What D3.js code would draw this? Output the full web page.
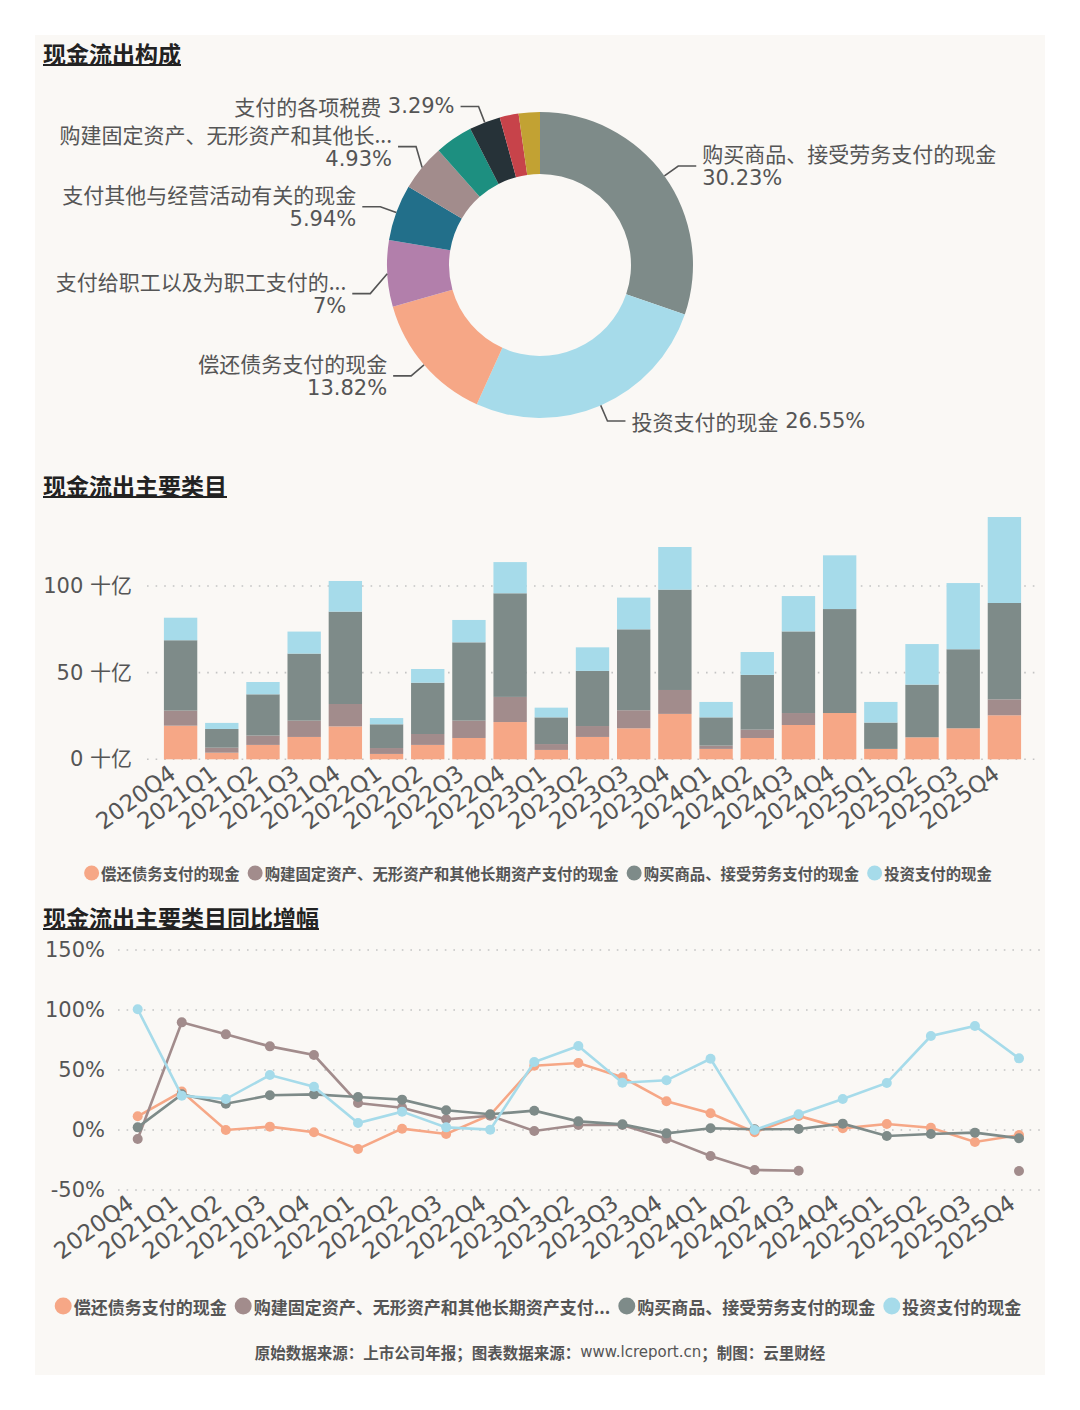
<!DOCTYPE html>
<html><head><meta charset="utf-8">
<script src="https://cdn.jsdelivr.net/npm/d3@7/dist/d3.min.js"></script>
<style>body{margin:0;background:#fff}</style>
</head><body>
<svg id="chart" width="1080" height="1410"></svg>
<script>
// ---------- DATA ----------
const pieNames = ["购买商品、接受劳务支付的现金","投资支付的现金","偿还债务支付的现金","支付给职工以及为职工支付的现金","支付其他与经营活动有关的现金","购建固定资产、无形资产和其他长期资产支付的现金","分配股利、利润或偿付利息支付的现金","支付的各项税费","支付其他与筹资活动有关的现金","支付其他与投资活动有关的现金"];
const pieValues = [30.23,26.55,13.82,7,5.94,4.93,4.0,3.29,2.0,2.24];
const pieShowLabel = [true,true,true,true,true,true,false,true,false,false];

const quarters = ["2020Q4","2021Q1","2021Q2","2021Q3","2021Q4","2022Q1","2022Q2","2022Q3","2022Q4","2023Q1","2023Q2","2023Q3","2023Q4","2024Q1","2024Q2","2024Q3","2024Q4","2025Q1","2025Q2","2025Q3","2025Q4"];
const seriesNames = ["偿还债务支付的现金","购建固定资产、无形资产和其他长期资产支付的现金","购买商品、接受劳务支付的现金","投资支付的现金"];
// 十亿
const debtPaid     = [19.4,3.8,8.3,12.9,19.0,3.1,8.3,12.3,21.5,5.4,12.9,17.9,26.2,6.0,12.3,19.8,26.7,6.0,12.7,17.9,25.4];
const fixedAssets  = [8.7,2.9,5.4,9.4,12.9,3.4,6.3,10.0,14.5,3.4,6.3,10.4,13.8,1.9,4.8,6.9,0,0,0,0,9.2];
const goodsPaid    = [40.6,10.8,23.8,38.7,53.3,13.7,29.6,45.2,59.8,15.4,31.8,46.7,57.9,16.3,31.6,47.1,60.0,15.2,30.4,45.6,55.6];
const investPaid   = [13.0,3.5,7.1,12.7,17.7,3.6,7.9,12.9,18.0,5.6,13.6,18.3,24.6,8.9,13.2,20.4,31.0,11.9,23.4,38.2,49.6];
const barTicks = [0,50,100];
const barUnit = "十亿";
// YoY %
const debtYoY   = [11.4,32.0,0.0,2.8,-1.9,-15.8,1.1,-3.3,12.5,53.5,55.8,43.9,23.9,13.9,-1.9,11.7,1.4,5.0,1.9,-10.0,-4.2];
const fixedYoY  = [-7.5,89.7,79.7,69.7,62.5,22.5,18.6,8.9,11.9,-0.8,4.2,4.2,-7.2,-21.7,-33.3,-33.9,null,null,null,null,-34.2];
const goodsYoY  = [2.2,29.7,21.9,28.9,29.7,27.5,25.3,16.4,13.1,16.1,7.2,4.7,-2.8,1.4,0.6,0.8,5.3,-5.0,-3.3,-2.2,-6.9];
const investYoY = [100.6,28.6,25.8,45.8,36.1,5.8,15.3,2.2,0.3,56.6,70.0,39.4,41.4,59.4,0.0,13.1,25.8,39.2,78.3,86.7,59.7];
const lineTicks = [-50,0,50,100,150];

const titles = ["现金流出构成","现金流出主要类目","现金流出主要类目同比增幅"];
const footerParts = ["原始数据来源：上市公司年报；图表数据来源：","www.lcreport.cn","；制图：云里财经"];

// ---------- STYLE ----------
const pieColors = ["#7e8b89","#a6dbea","#f6a786","#b27fab","#226f8a","#a28c8c","#1d8f80","#263238","#c7434a","#c2a233"];
const seriesColors = ["#f6a786","#a28c8c","#7e8b89","#a6dbea"];
const NUM = "'DejaVu Sans','Noto Sans CJK SC',sans-serif";
const CJK = "'Noto Sans CJK SC','DejaVu Sans',sans-serif";
const TXT = "#555";

const svg = d3.select("#chart");
svg.append("rect").attr("x",35).attr("y",35).attr("width",1010).attr("height",1340).attr("fill","#faf8f5");

function title(t, y){
  const g = svg.append("g");
  const tx = g.append("text").attr("x",43).attr("y",y).attr("dominant-baseline","central")
    .attr("font-family",CJK).attr("font-weight","bold").attr("font-size",23).attr("fill","#222").text(t);
  const w = tx.node().getComputedTextLength();
  g.append("line").attr("x1",43).attr("x2",43+w).attr("y1",y+12).attr("y2",y+12).attr("stroke","#222").attr("stroke-width",2);
}
title(titles[0],53);
title(titles[1],485);
title(titles[2],917);

// ---------- DONUT ----------
const cx = 540, cy = 265, rOuter = 153, rInner = 91;
const pieData = pieNames.map((n,i)=>({name:n, value:pieValues[i], color:pieColors[i], show:pieShowLabel[i]}));
const arcs = d3.pie().sort(null).value(d=>d.value)(pieData);
const arcGen = d3.arc().innerRadius(rInner).outerRadius(rOuter);
const pg = svg.append("g").attr("transform",`translate(${cx},${cy})`);
pg.selectAll("path").data(arcs).join("path").attr("d",arcGen).attr("fill",d=>d.data.color);

// label layout nudges (label collision adjustments)
const nudge = {"支付给职工以及为职工支付的现金":{dx:0,dy:19}, "购建固定资产、无形资产和其他长期资产支付的现金":{dx:7,dy:-10}};
const lg = svg.append("g");
arcs.filter(a=>a.data.show).forEach(a=>{
  const mid = (a.startAngle+a.endAngle)/2;
  const p0 = [cx+rOuter*Math.sin(mid), cy-rOuter*Math.cos(mid)];
  const nd = nudge[a.data.name]||{dx:0,dy:0};
  const p1 = [cx+170*Math.sin(mid)+nd.dx, cy-170*Math.cos(mid)+nd.dy];
  const right = Math.sin(mid) > 0;
  const p2 = [p1[0]+(right?18:-18), p1[1]];
  lg.append("path").attr("d",d3.line()([p0,p1,p2])).attr("fill","none").attr("stroke",TXT).attr("stroke-width",1.6);
  const tx = p2[0]+(right?6:-6);
  const anchor = right?"start":"end";
  const pct = a.data.value + "%";
  const single = a.data.name.length <= 7;
  if(single){
    const t = lg.append("text").attr("x",tx).attr("y",p2[1]).attr("text-anchor",anchor).attr("dominant-baseline","central")
      .attr("font-family",NUM).attr("font-size",21).attr("fill",TXT);
    t.append("tspan").attr("font-family",CJK).text(a.data.name);
    t.append("tspan").text(" "+pct);
  } else {
    const t1 = lg.append("text").attr("x",tx).attr("y",p2[1]-13).attr("text-anchor",anchor).attr("dominant-baseline","central")
      .attr("font-family",CJK).attr("font-size",21).attr("fill",TXT).text(a.data.name);
    const avail = right ? (1037 - tx) : (tx - 43);
    let s = a.data.name;
    if(t1.node().getComputedTextLength() > avail){
      while(s.length>1){
        s = s.slice(0,-1);
        t1.text(s+"...");
        if(t1.node().getComputedTextLength() <= avail) break;
      }
    }
    lg.append("text").attr("x",tx).attr("y",p2[1]+12).attr("text-anchor",anchor).attr("dominant-baseline","central")
      .attr("font-family",NUM).attr("font-size",21).attr("fill",TXT).text(pct);
  }
});

// ---------- STACKED BARS ----------
const barRows = quarters.map((q,i)=>({q, s0:debtPaid[i], s1:fixedAssets[i], s2:goodsPaid[i], s3:investPaid[i]}));
const keys = ["s0","s1","s2","s3"];
const stack = d3.stack().keys(keys)(barRows);
const xb = d3.scaleBand().domain(quarters).range([160,1025]).paddingInner(0.19).paddingOuter(0.095);
const yb = d3.scaleLinear().domain([0,100]).range([759.3,586]);
const bg = svg.append("g");
bg.selectAll("line.grid").data(barTicks).join("line").attr("class","grid")
  .attr("x1",147).attr("x2",1037).attr("y1",d=>yb(d)).attr("y2",d=>yb(d))
  .attr("stroke","#c4c4c4").attr("stroke-width",1.6).attr("stroke-dasharray","1.6,7");
bg.selectAll("text.yt").data(barTicks).join("text").attr("class","yt")
  .attr("x",132).attr("y",d=>yb(d)).attr("text-anchor","end").attr("dominant-baseline","central")
  .attr("font-family",NUM).attr("font-size",21).attr("fill",TXT).text(d=>d+" "+barUnit);
stack.forEach((layer,k)=>{
  bg.append("g").selectAll("rect").data(layer).join("rect")
    .attr("x",d=>xb(d.data.q)).attr("width",xb.bandwidth())
    .attr("y",d=>yb(d[1])).attr("height",d=>Math.max(0,yb(d[0])-yb(d[1])))
    .attr("fill",seriesColors[k]);
});
bg.selectAll("text.xl").data(quarters).join("text").attr("class","xl")
  .attr("transform",d=>`translate(${xb(d)+xb.bandwidth()/2-8},${759.3+11}) rotate(-36)`)
  .attr("text-anchor","end").attr("dy","0.35em")
  .attr("font-family",NUM).attr("font-size",23).attr("fill",TXT).text(d=>d);

function legend(y, fs, r, maxW){
  const g = svg.append("g");
  let x = 0;
  seriesNames.forEach((n,i)=>{
    g.append("circle").attr("cx",x+r).attr("cy",y).attr("r",r).attr("fill",seriesColors[i]);
    const t = g.append("text").attr("x",x+2*r+2).attr("y",y).attr("dominant-baseline","central")
      .attr("font-family",CJK).attr("font-weight","bold").attr("font-size",fs).attr("fill",TXT).text(n);
    if(maxW && t.node().getComputedTextLength()>maxW){
      let s=n; while(s.length>1){ s=s.slice(0,-1); t.text(s+"..."); if(t.node().getComputedTextLength()<=maxW) break; }
    }
    x += 2*r+2+t.node().getComputedTextLength()+8;
  });
  const total = x-8;
  g.attr("transform",`translate(${538-total/2},0)`);
}
legend(873,15.4,7.5,null);

// ---------- LINES ----------
const xl = d3.scalePoint().domain(quarters).range([137.7,1019]);
const yl = d3.scaleLinear().domain([-50,150]).range([1190,950]);
const lgp = svg.append("g");
lgp.selectAll("line.grid").data(lineTicks).join("line").attr("class","grid")
  .attr("x1",118).attr("x2",1040).attr("y1",d=>yl(d)).attr("y2",d=>yl(d))
  .attr("stroke","#c4c4c4").attr("stroke-width",1.6).attr("stroke-dasharray","1.6,7");
lgp.selectAll("text.yt").data(lineTicks).join("text").attr("class","yt")
  .attr("x",105).attr("y",d=>yl(d)).attr("text-anchor","end").attr("dominant-baseline","central")
  .attr("font-family",NUM).attr("font-size",21).attr("fill",TXT).text(d=>d+"%");
const yoySeries = [debtYoY, fixedYoY, goodsYoY, investYoY];
yoySeries.forEach((arr,k)=>{
  const pts = arr.map((v,i)=>({q:quarters[i], v}));
  const line = d3.line().defined(d=>d.v!==null).x(d=>xl(d.q)).y(d=>yl(d.v));
  lgp.append("path").attr("d",line(pts)).attr("fill","none").attr("stroke",seriesColors[k]).attr("stroke-width",2.6);
  lgp.append("g").selectAll("circle").data(pts.filter(d=>d.v!==null)).join("circle")
    .attr("cx",d=>xl(d.q)).attr("cy",d=>yl(d.v)).attr("r",5).attr("fill",seriesColors[k]);
});
lgp.selectAll("text.xl").data(quarters).join("text").attr("class","xl")
  .attr("transform",d=>`translate(${xl(d)-7},${1190+10}) rotate(-36)`)
  .attr("text-anchor","end").attr("dy","0.35em")
  .attr("font-family",NUM).attr("font-size",23).attr("fill",TXT).text(d=>d);
legend(1306,17,8.5,362);

const ft = svg.append("text").attr("x",540).attr("y",1352).attr("text-anchor","middle").attr("dominant-baseline","central")
  .attr("font-family",CJK).attr("font-size",15.5).attr("fill",TXT);
ft.append("tspan").attr("font-weight","bold").text(footerParts[0]);
ft.append("tspan").attr("font-family",NUM).attr("font-size",15).text(footerParts[1]);
ft.append("tspan").attr("font-weight","bold").text(footerParts[2]);
</script>
</body></html>
